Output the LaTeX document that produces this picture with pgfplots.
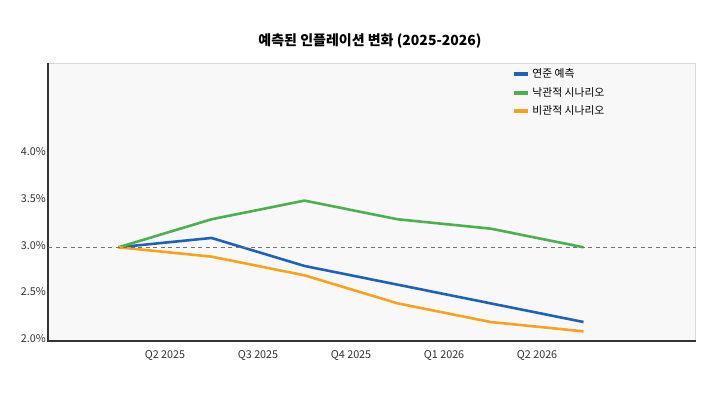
\documentclass[border=0pt]{standalone}
\usepackage{pgfplots}
\pgfplotsset{compat=1.18}
\usepackage{fontspec}
\setmainfont{Noto Sans CJK KR}
\definecolor{cblue}{HTML}{1F63B8}
\definecolor{cgreen}{HTML}{4CAF50}
\definecolor{corange}{HTML}{F9A21B}
\definecolor{plotbg}{HTML}{F8F8F8}
\definecolor{axdark}{HTML}{333333}
\begin{document}
\begin{tikzpicture}[x=1pt,y=1pt]
\path[use as bounding box, fill=white] (0,0) rectangle (720,398);
\node[font=\bfseries\fontsize{14}{16}\selectfont, text=black] at (370,357) {예측된 인플레이션 변화 (2025-2026)};
\begin{axis}[
  at={(48.3pt,57.3pt)}, anchor=south west,
  width=647.4pt, height=277.4pt, scale only axis,
  xmin=-0.755, xmax=6.206, ymin=2.0, ymax=4.97,
  axis background/.style={fill=plotbg},
  axis line style={draw=none},
  xtick={0.5,1.5,2.5,3.5,4.5},
  xticklabels={Q2 2025,Q3 2025,Q4 2025,Q1 2026,Q2 2026},
  ytick={2.0,2.5,3.0,3.5,4.0},
  yticklabel={\pgfmathprintnumber[fixed,fixed zerofill,precision=1]{\tick}\%},
  /pgf/number format/assume math mode=true,
  tick style={draw=none},
  tick label style={font=\fontsize{10.8}{12}\selectfont, text=axdark},
  yticklabel style={xshift=1pt, yshift=2pt},
  xticklabel style={yshift=-6pt},
  legend style={at={(0.712,0.995)}, anchor=north west, draw=none, fill=none,
    font=\fontsize{10.8}{12}\selectfont, row sep=4pt,
    /tikz/every even column/.append style={column sep=2pt}},
  legend cell align=left,
  legend image code/.code={\draw[line width=4pt] (0pt,0pt) -- (14pt,0pt);},
  clip=false,
]
\draw[draw=black!15, line width=1pt] (rel axis cs:0,1) -- (rel axis cs:1,1) -- (rel axis cs:1,0);
\draw[draw=axdark, line width=2pt] (rel axis cs:0,1) -- (rel axis cs:0,0) -- (rel axis cs:1,0);
\addplot[cblue, line width=2.6pt, line join=round] coordinates {(0,3.0) (1,3.1) (2,2.8) (3,2.6) (4,2.4) (5,2.2)};
\addlegendentry{연준 예측}
\addplot[cgreen, line width=2.6pt, line join=round] coordinates {(0,3.0) (1,3.3) (2,3.5) (3,3.3) (4,3.2) (5,3.0)};
\addlegendentry{낙관적 시나리오}
\addplot[corange, line width=2.6pt, line join=round] coordinates {(0,3.0) (1,2.9) (2,2.7) (3,2.4) (4,2.2) (5,2.1)};
\addlegendentry{비관적 시나리오}
\addplot[black!55, line width=1pt, dash pattern=on 4pt off 3.5pt, forget plot] coordinates {(-0.755,3.0) (6.206,3.0)};
\end{axis}
\end{tikzpicture}
\end{document}
